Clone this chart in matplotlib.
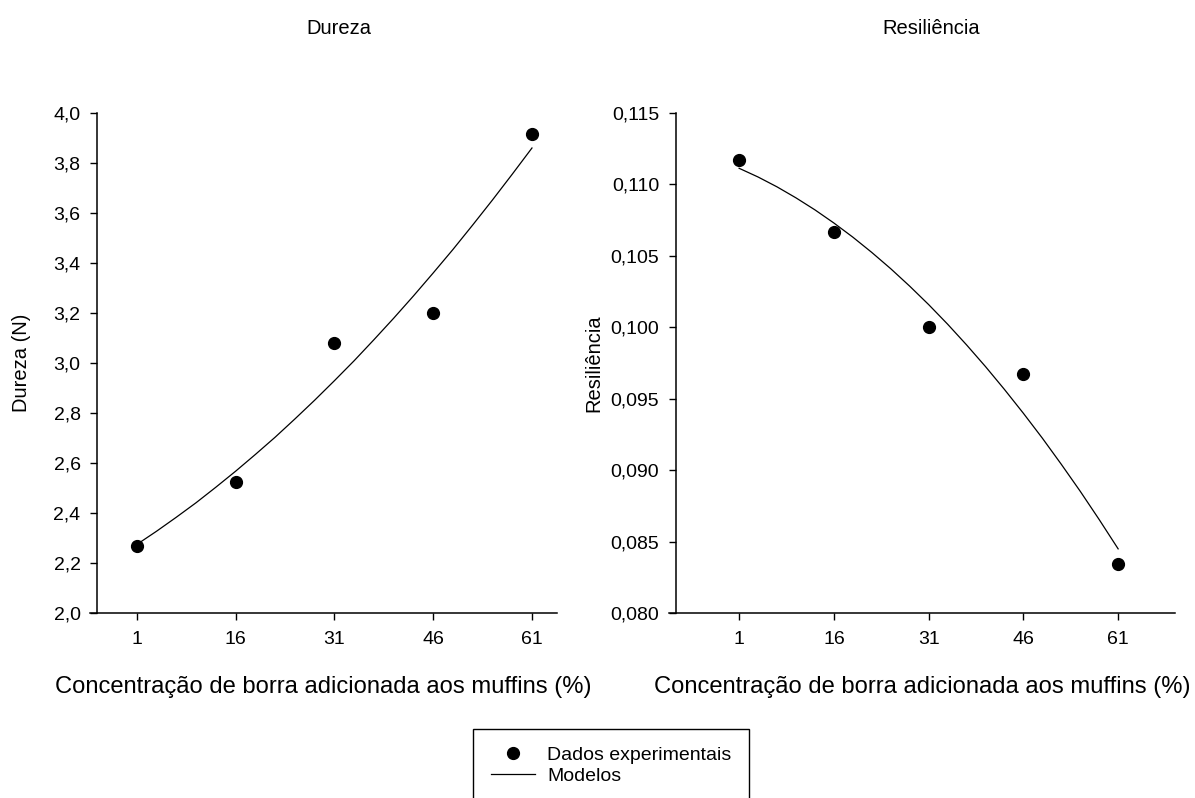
import numpy as np
import matplotlib
matplotlib.use("Agg")
import matplotlib.pyplot as plt
from matplotlib.ticker import FuncFormatter
from matplotlib.lines import Line2D

plt.rcParams["font.family"] = ["Liberation Sans", "DejaVu Sans"]
plt.rcParams["font.size"] = 14

# experimental data
conc = [1, 16, 31, 46, 61]
dureza = [2.27, 2.525, 3.08, 3.20, 3.915]
resil = [0.1117, 0.1067, 0.1000, 0.0967, 0.0834]

# model curves
conc_model = [1, 4, 7, 10, 13, 16, 19, 22, 25, 28, 31,
              34, 37, 40, 43, 46, 49, 52, 55, 58, 61]
dureza_model = [2.274, 2.327, 2.383, 2.441, 2.503, 2.567, 2.634, 2.703, 2.776, 2.851, 2.929,
                3.009, 3.093, 3.179, 3.268, 3.360, 3.454, 3.552, 3.652, 3.755, 3.860]
resil_model = [0.11113, 0.11052, 0.10983, 0.10906, 0.10822, 0.10730, 0.10631, 0.10524,
               0.10410, 0.10288, 0.10159, 0.10022, 0.09877, 0.09725, 0.09565, 0.09398,
               0.09224, 0.09041, 0.08852, 0.08654, 0.08449]

xticks = [1, 16, 31, 46, 61]
xlabel = "Concentração de borra adicionada aos muffins (%)"

fig = plt.figure(figsize=(11.95, 7.98), dpi=100)
W, H = 1195, 798


def make_axes(x0, x1, y0, y1):
    return fig.add_axes([x0 / W, 1 - y1 / H, (x1 - x0) / W, (y1 - y0) / H])


def style(ax, xlim, spine_x, ylim, yticks, fmt, ylabel, ypad):
    ax.set_xlim(*xlim)
    ax.set_ylim(*ylim)
    for s in ["top", "right"]:
        ax.spines[s].set_visible(False)
    ax.spines["left"].set_position(("data", spine_x))
    for s in ["left", "bottom"]:
        ax.spines[s].set_linewidth(1.1)
    ax.set_xticks(xticks)
    ax.set_yticks(yticks)
    ax.yaxis.set_major_formatter(FuncFormatter(lambda v, p: (fmt % v).replace(".", ",")))
    ax.tick_params(direction="out", length=5, width=1.0, labelsize=14)
    ax.tick_params(axis="x", pad=8)
    ax.tick_params(axis="y", pad=7)
    ax.set_xlabel(xlabel, fontsize=17.1, labelpad=20)
    ax.set_ylabel(ylabel, fontsize=14.5, labelpad=ypad)


ax1 = make_axes(90, 557, 113, 613)
ax1.plot(conc_model, dureza_model, color="black", lw=0.9, solid_joinstyle="round")
ax1.plot(conc, dureza, "o", color="black", ms=8.5)
style(ax1, (-6.1, 64.8), -5, (2.0, 4.0), np.arange(2.0, 4.01, 0.2), "%.1f",
      "Dureza (N)", 16)

ax2 = make_axes(669, 1175, 113, 613)
ax2.plot(conc_model, resil_model, color="black", lw=0.9, solid_joinstyle="round")
ax2.plot(conc, resil, "o", color="black", ms=8.5)
style(ax2, (-10.1, 70.0), -9, (0.080, 0.115), np.arange(0.080, 0.1151, 0.005), "%.3f",
      "Resiliência", 5)

fig.text(339 / W, 1 - 28 / H, "Dureza", ha="center", va="center", fontsize=14.5)
fig.text(931 / W, 1 - 28 / H, "Resiliência", ha="center", va="center", fontsize=14.5)

handles = [
    Line2D([], [], marker="o", ls="none", color="black", ms=8.5),
    Line2D([], [], color="black", lw=0.9),
]
leg = fig.legend(handles, ["Dados experimentais", "Modelos"], loc="upper center",
                 bbox_to_anchor=(611 / W, 1 - 729 / H), fontsize=14, frameon=True,
                 fancybox=False, edgecolor="black", framealpha=1, handlelength=2.3,
                 handletextpad=0.6, labelspacing=0.15, borderpad=0.9, borderaxespad=0)
leg.get_frame().set_linewidth(1.0)

fig.savefig("out.png", dpi=100)
